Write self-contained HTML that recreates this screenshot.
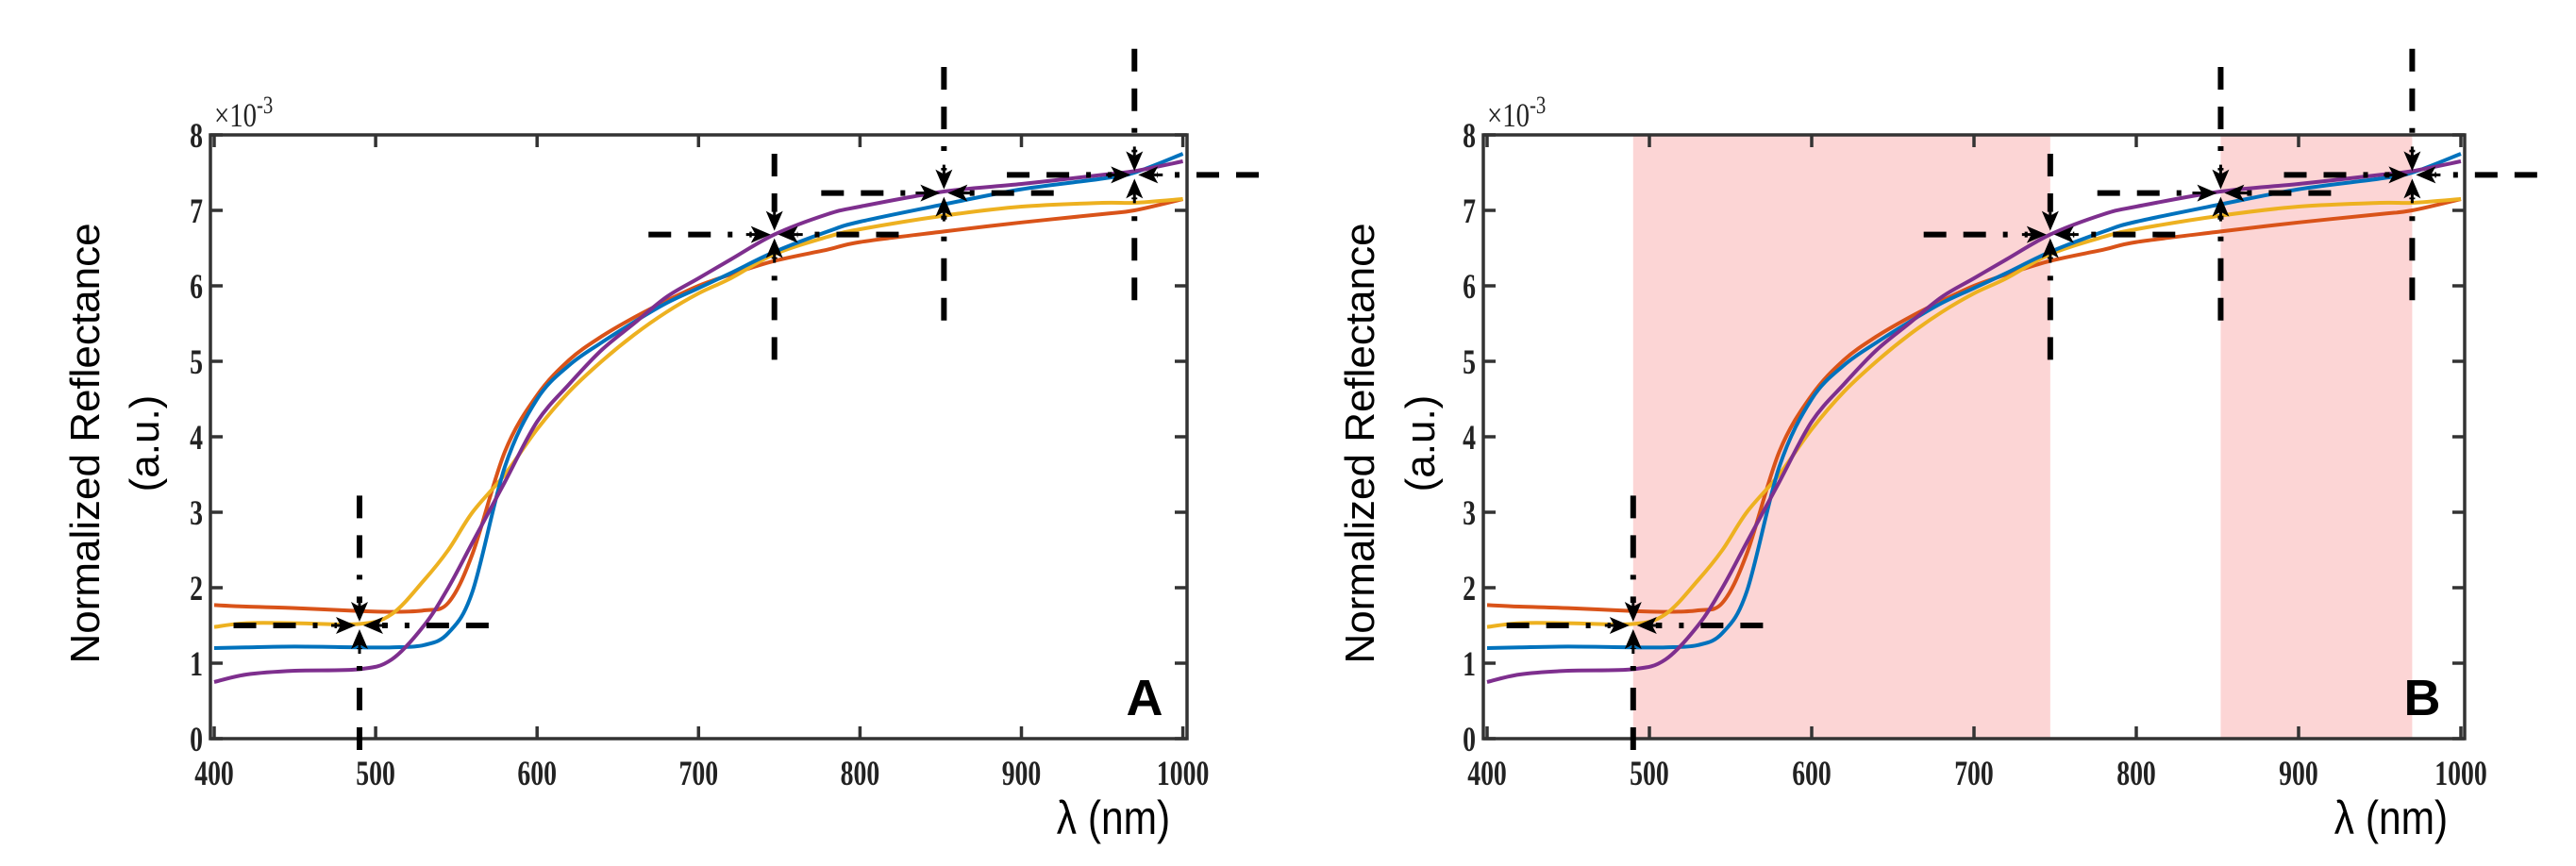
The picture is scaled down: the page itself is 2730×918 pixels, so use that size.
<!DOCTYPE html>
<html><head><meta charset="utf-8">
<style>
html,body{margin:0;padding:0;background:#fff;}
svg{display:block;}
.tick{font-family:"Liberation Serif",serif;font-weight:bold;font-size:37px;fill:#222;}
.ttl{font-family:"Liberation Sans",sans-serif;font-size:44px;fill:#000;}
</style></head>
<body>
<svg id="chart" width="2730" height="918" viewBox="0 0 2730 918" xmlns="http://www.w3.org/2000/svg"></svg>
<script>
// ---- data ----
const wl = [400,420,450,490,510,530,545,560,580,600,620,640,660,680,700,720,747,780,800,852,900,950,970,1000];
const seriesRed    = [1.77,1.75,1.73,1.69,1.68,1.70,1.80,2.45,3.80,4.55,5.02,5.33,5.58,5.80,6.00,6.15,6.33,6.48,6.58,6.72,6.84,6.95,7.00,7.15];
const seriesBlue   = [1.20,1.21,1.22,1.21,1.21,1.24,1.40,1.95,3.60,4.50,4.95,5.25,5.52,5.77,5.97,6.17,6.45,6.72,6.85,7.08,7.28,7.42,7.50,7.75];
const seriesYellow = [1.48,1.53,1.53,1.52,1.65,2.10,2.50,3.00,3.50,4.10,4.60,5.00,5.35,5.65,5.90,6.10,6.42,6.65,6.75,6.93,7.05,7.10,7.10,7.15];
const seriesPurple = [0.75,0.85,0.90,0.92,1.05,1.50,2.00,2.60,3.40,4.20,4.70,5.15,5.50,5.85,6.10,6.35,6.68,6.95,7.05,7.25,7.35,7.47,7.52,7.65];
const xTicks = [400,500,600,700,800,900,1000];
const yTicks = [0,1,2,3,4,5,6,7,8];
const crossX = [490,747,852,970];
const crossY = [1.5,6.68,7.23,7.47];
const vRangeLo = [-0.15,5.02,5.54,5.81];
const vRangeHi = [3.22,7.75,8.9,9.14];
const hRangeLo = [412,669,776,891];
const hRangeHi = [570,824,920,1047];
const shadeStart = [490,852];
const shadeEnd = [747,970];

const NS = "http://www.w3.org/2000/svg";
const svg = document.getElementById('chart');
function mk(tag, attrs, parent){
  const e = document.createElementNS(NS, tag);
  for (const k in attrs) e.setAttribute(k, attrs[k]);
  (parent||svg).appendChild(e);
  return e;
}

const panels = [
  {id:'a', x0:227, k:1.711, boxL:223, boxR:1258, letter:'A', titleX1:105, titleX2:168, shade:false},
  {id:'b', x0:1576, k:1.72, boxL:1572, boxR:2612, letter:'B', titleX1:1456, titleX2:1520, shade:true}
];
const yB = 783, yK = 80, boxT = 143;
const colors = {red:'#d95319', blue:'#0072bd', yellow:'#edb120', purple:'#7e2f8e'};

panels.forEach(p => {
  const sx = v => p.x0 + (v - 400) * p.k;
  const sy = v => yB - v * yK;
  const g = mk('g', {});
  
  

  if (p.shade) {
    shadeStart.forEach((s, i) => {
      const r = mk('rect', {x: sx(s), y: boxT, width: sx(shadeEnd[i]) - sx(s), height: yB - boxT, fill: '#fcd5d5'}, g);
      
      
    });
  }

  const series = [['red', seriesRed], ['yellow', seriesYellow], ['blue', seriesBlue], ['purple', seriesPurple]];
  series.forEach(([name, vals]) => {
    const pts = wl.map((w, i) => [sx(w), sy(vals[i])]);
    let d = 'M' + pts[0][0] + ',' + pts[0][1];
    for (let i = 0; i < pts.length - 1; i++) {
      const p0 = pts[Math.max(0, i - 1)], p1 = pts[i], p2 = pts[i + 1], p3 = pts[Math.min(pts.length - 1, i + 2)];
      const c1 = [p1[0] + (p2[0] - p0[0]) / 6, p1[1] + (p2[1] - p0[1]) / 6];
      const c2 = [p2[0] - (p3[0] - p1[0]) / 6, p2[1] - (p3[1] - p1[1]) / 6];
      d += ' C' + c1[0] + ',' + c1[1] + ' ' + c2[0] + ',' + c2[1] + ' ' + p2[0] + ',' + p2[1];
    }
    const path = mk('path', {d: d, fill: 'none', stroke: colors[name], 'stroke-width': 4}, g);
    
    
  });

  const box = mk('rect', {x: p.boxL, y: boxT, width: p.boxR - p.boxL, height: yB - boxT, fill: 'none', stroke: '#333', 'stroke-width': 3.5}, g);
  
  

  xTicks.forEach(t => {
    const x = sx(t);
    mk('line', {x1: x, y1: yB, x2: x, y2: yB - 13, stroke: '#333', 'stroke-width': 3.5}, g);
    mk('line', {x1: x, y1: boxT, x2: x, y2: boxT + 13, stroke: '#333', 'stroke-width': 3.5}, g);
    const tx = mk('text', {x: x, y: 832, 'text-anchor': 'middle', class: 'tick', transform: 'translate(' + x + ',0) scale(0.75,1) translate(' + (-x) + ',0)'}, g);
    tx.textContent = t;
    
    
  });
  yTicks.forEach(t => {
    const y = sy(t);
    mk('line', {x1: p.boxL, y1: y, x2: p.boxL + 13, y2: y, stroke: '#333', 'stroke-width': 3.5}, g);
    mk('line', {x1: p.boxR, y1: y, x2: p.boxR - 13, y2: y, stroke: '#333', 'stroke-width': 3.5}, g);
    const tx = mk('text', {x: p.boxL - 8, y: y + 13, 'text-anchor': 'end', class: 'tick', transform: 'translate(' + (p.boxL - 8) + ',0) scale(0.75,1) translate(' + (-(p.boxL - 8)) + ',0)'}, g);
    tx.textContent = t;
    
    
  });

  const ex = mk('text', {x: p.boxL + 4, y: 134, class: 'tick', style: 'font-weight:normal;font-size:36px', transform: 'translate(' + (p.boxL + 4) + ',0) scale(0.8,1) translate(' + (-(p.boxL + 4)) + ',0)'}, g);
  ex.innerHTML = '×10<tspan dy="-14" font-size="26">-3</tspan>';
  
  

  const t1 = mk('text', {x: p.titleX1, y: 470, class: 'ttl', 'text-anchor': 'middle', transform: 'rotate(-90 ' + p.titleX1 + ' 470)'}, g);
  t1.textContent = 'Normalized Reflectance';
  
  
  const t2 = mk('text', {x: p.titleX2, y: 470, class: 'ttl', 'text-anchor': 'middle', transform: 'rotate(-90 ' + p.titleX2 + ' 470)'}, g);
  t2.textContent = '(a.u.)';
  
  

  const xl = mk('text', {x: p.boxR - 78, y: 884, class: 'ttl', 'text-anchor': 'middle', style: 'font-size:50px', transform: 'translate(' + (p.boxR - 78) + ',0) scale(0.85,1) translate(' + (-(p.boxR - 78)) + ',0)'}, g);
  xl.textContent = 'λ (nm)';
  
  

  const lt = mk('text', {x: p.boxR - 45, y: 758, class: 'ttl', 'text-anchor': 'middle', style: 'font-weight:bold;font-size:54px'}, g);
  lt.textContent = p.letter;
  
  

  crossX.forEach((cx0, i) => {
    const cx = sx(cx0), cy = sy(crossY[i]);
    const cg = mk('g', {}, g);
    
    
    const dash = '24 18 24 18 5 18';
    mk('line', {x1: cx, y1: sy(vRangeHi[i]), x2: cx, y2: cy - 24, stroke: '#000', 'stroke-width': 6, 'stroke-dasharray': dash}, cg);
    mk('line', {x1: cx, y1: sy(vRangeLo[i]), x2: cx, y2: cy + 24, stroke: '#000', 'stroke-width': 6, 'stroke-dasharray': dash}, cg);
    mk('line', {x1: sx(hRangeLo[i]), y1: cy, x2: cx - 24, y2: cy, stroke: '#000', 'stroke-width': 6, 'stroke-dasharray': dash}, cg);
    mk('line', {x1: sx(hRangeHi[i]), y1: cy, x2: cx + 24, y2: cy, stroke: '#000', 'stroke-width': 6, 'stroke-dasharray': dash}, cg);
    const tip = 4, base = 20, hw = 9;
    [[0, -1], [0, 1], [-1, 0], [1, 0]].forEach(([dx, dy]) => {
      const tx = cx + dx * tip, ty = cy + dy * tip;
      const bx = cx + dx * base, by = cy + dy * base;
      const pts = dx === 0
        ? [[tx, ty], [bx - hw, by + dy * 5], [bx, by], [bx + hw, by + dy * 5]]
        : [[tx, ty], [bx + dx * 5, by - hw], [bx, by], [bx + dx * 5, by + hw]];
      mk('polygon', {points: pts.map(q => q.join(',')).join(' '), fill: '#000'}, cg);
      mk('line', {x1: bx, y1: by, x2: cx + dx * 30, y2: cy + dy * 30, stroke: '#000', 'stroke-width': 3}, cg);
    });
  });
});
</script>
</body></html>
